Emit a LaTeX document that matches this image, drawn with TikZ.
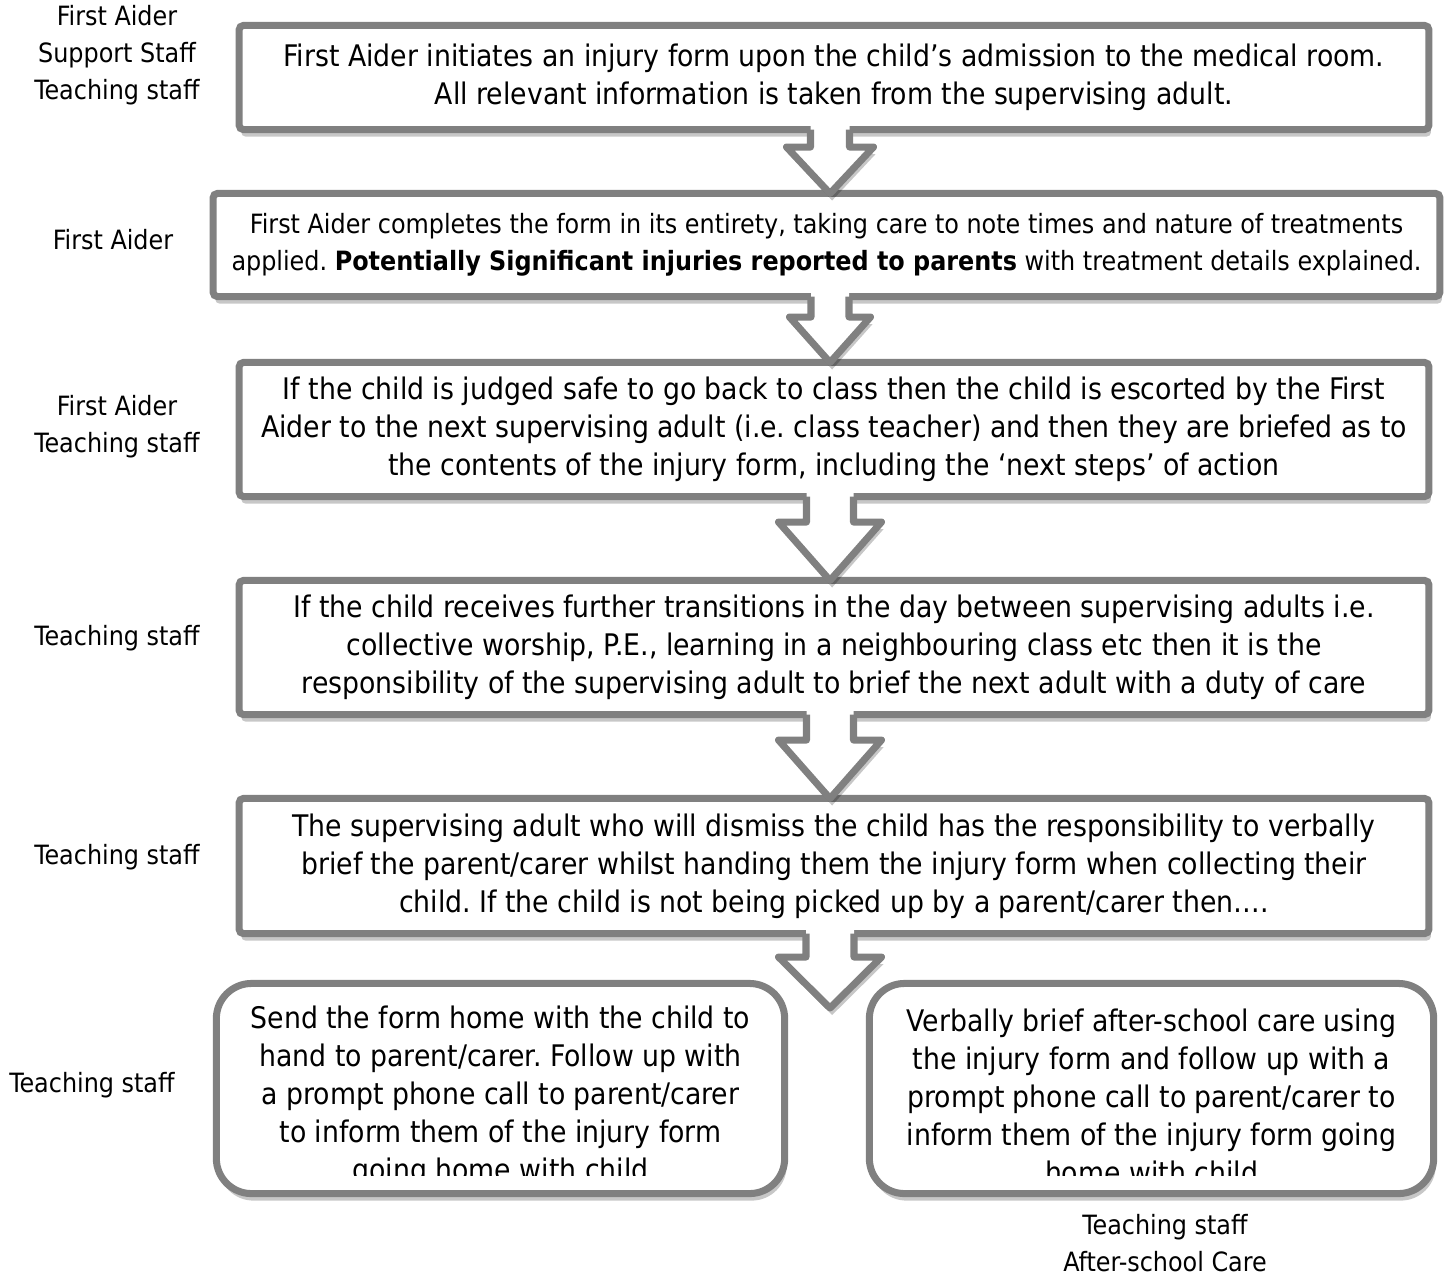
\documentclass[tikz,border=0pt]{standalone}
\usepackage{fontspec}
\setmainfont{DejaVu Sans Condensed}
\usetikzlibrary{calc, shadows}

\definecolor{boxgray}{RGB}{128,128,128}
\newcommand{\boxfont}{\fontsize{8.45}{10.8}\selectfont}
\newcommand{\smallboxfont}{\fontsize{7.55}{10.6}\selectfont}
\frenchspacing

\tikzset{
  softshadow/.style={drop shadow={shadow xshift=0.6pt, shadow yshift=-2pt, fill=black, opacity=0.22}},
  stepbox/.style={draw=boxgray, fill=white, line width=2pt, rounded corners=1.2pt,
    outer sep=0pt, inner sep=0pt, align=center, font=\boxfont, softshadow},
  choicebox/.style={stepbox, rounded corners=10pt},
  boxtext/.style={align=center, font=\boxfont, inner sep=0pt},
  role/.style={align=center, font=\fontsize{7.55}{10.5}\selectfont},
  arrowline/.style={draw=boxgray, line width=2pt, line join=round},
}

% block arrow: source box, tip, half shaft, half head, shaft length
\newcommand{\blockarrow}[5]{%
  \coordinate (s) at (#1.south -| axis);
  \coordinate (h) at ($(s)+(0,#5)$);
  \fill[white, softshadow] ($(s)+(-#3,-5)$) -- ($(h)+(-#3,0)$) -- ($(h)+(-#4,0)$) -- (#2)
    -- ($(h)+(#4,0)$) -- ($(h)+(#3,0)$) -- ($(s)+(#3,-5)$) -- cycle;
  \draw[arrowline] ($(s)+(-#3,0)$) -- ($(h)+(-#3,0)$) -- ($(h)+(-#4,0)$) -- (#2)
    -- ($(h)+(#4,0)$) -- ($(h)+(#3,0)$) -- ($(s)+(#3,0)$);
}

\begin{document}
\begin{tikzpicture}[x=0.01cm, y=-0.01cm]
    \useasboundingbox (0,0) rectangle (1452,1278);
    \coordinate (axis) at (830,0);

    % steps
    \node[stepbox, minimum width=11.89cm, minimum height=1.04cm] (b1) at (834,77.5)
      {First Aider initiates an injury form upon the child’s admission to the medical room.\\
       All relevant information is taken from the supervising adult.};
    \node[stepbox, minimum width=12.26cm, minimum height=1.03cm, font=\smallboxfont] (b2) at (826.5,245)
      {First Aider completes the form in its entirety, taking care to note times and nature of treatments\\
       applied. \textbf{Potentially Significant injuries reported to parents} with treatment details explained.};
    \node[stepbox, minimum width=11.89cm, minimum height=1.34cm] (b3) at (834,429.5)
      {If the child is judged safe to go back to class then the child is escorted by the First\\
       Aider to the next supervising adult (i.e. class teacher) and then they are briefed as to\\
       the contents of the injury form, including the ‘next steps’ of action};
    \node[stepbox, minimum width=11.89cm, minimum height=1.34cm] (b4) at (834,647.5)
      {If the child receives further transitions in the day between supervising adults i.e.\\
       collective worship, P.E., learning in a neighbouring class etc then it is the\\
       responsibility of the supervising adult to brief the next adult with a duty of care};
    \node[stepbox, minimum width=11.89cm, minimum height=1.35cm] (b5) at (834,866)
      {The supervising adult who will dismiss the child has the responsibility to verbally\\
       brief the parent/carer whilst handing them the injury form when collecting their\\
       child. If the child is not being picked up by a parent/carer then….};

    % last two choices
    \node[choicebox, minimum width=5.68cm, minimum height=2.10cm] (c1) at (500.5,1088.5) {};
    \node[choicebox, minimum width=5.64cm, minimum height=2.10cm] (c2) at (1151.5,1088.5) {};
    \begin{scope}
      \clip (c1.north west) rectangle ($(c2.south east)+(0,-18.5)$);
      \node[boxtext] (t1) at ($(c1.center)+(0,8)$)
        {Send the form home with the child to\\hand to parent/carer. Follow up with\\
         a prompt phone call to parent/carer\\to inform them of the injury form\\going home with child};
      \node[boxtext] (t2) at ($(c2.center)+(0,8)$)
        {Verbally brief after-school care using\\the injury form and follow up with a\\
         prompt phone call to parent/carer to\\inform them of the injury form going\\home with child};
    \end{scope}

    % arrows
    \coordinate (tip5) at (830,1008);
    \blockarrow{b1}{b2.north -| axis}{19.5}{43.5}{17.5}
    \blockarrow{b2}{b3.north -| axis}{19}{40.5}{20.5}
    \blockarrow{b3}{b4.north -| axis}{23.5}{51.5}{25.5}
    \blockarrow{b4}{b5.north -| axis}{23.5}{51.5}{25.5}
    \blockarrow{b5}{tip5}{24}{51.5}{23.5}

    % who does it
    \node[role] (r1) at (117,55) {First Aider\\Support Staff\\Teaching staff};
    \node[role] (r2) at (113,240) {First Aider};
    \node[role] (r3) at (117,427) {First Aider\\Teaching staff};
    \node[role] (r4) at (117,638) {Teaching staff};
    \node[role] (r5) at (117,857) {Teaching staff};
    \node[role] (r6) at (92,1085) {Teaching staff};
    \node[role] (r7) at (1165,1243) {Teaching staff\\After-school Care};
\end{tikzpicture}
\end{document}
